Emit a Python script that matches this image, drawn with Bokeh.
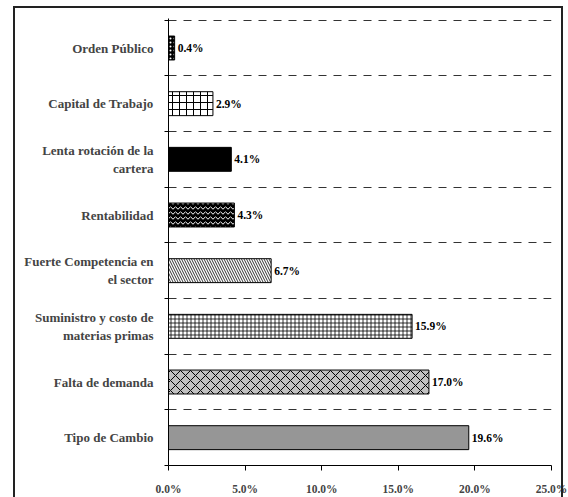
from bokeh.plotting import figure
from bokeh.models import (ColumnDataSource, Range1d, FixedTicker, PrintfTickFormatter,
                          InlineStyleSheet)
from bokeh.core.properties import value
from bokeh.embed import file_html
from bokeh.resources import INLINE

# Data (top to bottom as in the chart)
categories = [
    "Orden Público",
    "Capital de Trabajo",
    "Lenta rotación de la\ncartera",
    "Rentabilidad",
    "Fuerte Competencia en\nel sector",
    "Suministro y costo de\nmaterias primas",
    "Falta de demanda",
    "Tipo de Cambio",
]
values = [0.4, 2.9, 4.1, 4.3, 6.7, 15.9, 17.0, 19.6]
x_ticks = [0, 5, 10, 15, 20, 25]

# Styles per bar
fill_colors = ["black", "white", "black", "black", "white", "white", "#c0c0c0", "#969696"]
hatch_patterns = ["dot", "cross", " ", "horizontal_wave", "left_diagonal_line", "cross", "diagonal_cross", " "]
hatch_colors = ["white", "black", "black", "white", "black", "black", "black", "black"]
hatch_scales = [4, 7, 4, 5, 5, 4, 10, 4]
hatch_weights = [1, 1, 1, 1, 0.8, 0.8, 1, 1]

n = len(categories)
positions = [n - 1 - i + 0.5 for i in range(n)]
labels = ["%.1f%%" % v for v in values]

src = ColumnDataSource(dict(y=positions, v=values, lab=labels, fc=fill_colors,
                            hp=hatch_patterns, hc=hatch_colors, hs=hatch_scales,
                            hw=hatch_weights))

FONT = "Liberation Serif"

p = figure(width=568, height=497, output_backend="svg", toolbar_location=None,
           x_range=Range1d(0, 25), y_range=Range1d(0, n + 0.03),
           min_border_left=168, min_border_right=17, min_border_top=18,
           min_border_bottom=30)
p.outline_line_color = None
p.background_fill_color = "white"
p.border_fill_color = "white"

p.hbar(y="y", right="v", left=0, height=0.43, source=src,
       fill_color="fc", line_color="black", line_width=1,
       hatch_pattern="hp", hatch_color="hc", hatch_scale="hs", hatch_weight="hw")

p.text(x="v", y="y", text="lab", source=src, x_offset=3, text_baseline="middle",
       text_font=value(FONT), text_font_style="bold", text_font_size="11.5px",
       text_color="black")

# x axis
p.xaxis.ticker = FixedTicker(ticks=x_ticks)
p.xaxis.formatter = PrintfTickFormatter(format="%.1f%%")
p.xaxis.major_label_text_font = FONT
p.xaxis.major_label_text_font_style = "bold"
p.xaxis.major_label_text_font_size = "11.5px"
p.xaxis.major_label_standoff = 12
p.xaxis.major_tick_out = 5
p.xaxis.major_tick_in = 0
p.xaxis.minor_tick_line_color = None
p.xaxis.axis_line_color = "black"
p.xaxis.major_tick_line_color = "black"

# y axis
p.yaxis.ticker = FixedTicker(ticks=positions, minor_ticks=list(range(0, n + 1)))
p.yaxis.major_label_overrides = {pos: cat for pos, cat in zip(positions, categories)}
p.yaxis.major_label_text_font = FONT
p.yaxis.major_label_text_font_style = "bold"
p.yaxis.major_label_text_font_size = "13px"
p.yaxis.major_label_standoff = 9
p.yaxis.major_tick_line_color = None
p.yaxis.minor_tick_out = 4
p.yaxis.minor_tick_in = 0
p.yaxis.minor_tick_line_color = "black"
p.yaxis.axis_line_color = "black"

# grids
p.xgrid.grid_line_color = None
p.ygrid.ticker = FixedTicker(ticks=list(range(1, n + 1)))
p.ygrid.grid_line_color = "#333333"
p.ygrid.grid_line_dash = "8 7"
p.ygrid.grid_line_width = 1

# outer chart-area frame (open at the bottom, as in the cropped reference)
p.stylesheets = [InlineStyleSheet(css="""
:host::after {
  content: '';
  position: absolute;
  left: 13px;
  top: 6px;
  width: 550px;
  height: 491px;
  box-sizing: border-box;
  border: 2px solid #222222;
  border-bottom: none;
  pointer-events: none;
  z-index: 10;
}
""")]

open("out.html", "w").write(file_html(p, INLINE))
